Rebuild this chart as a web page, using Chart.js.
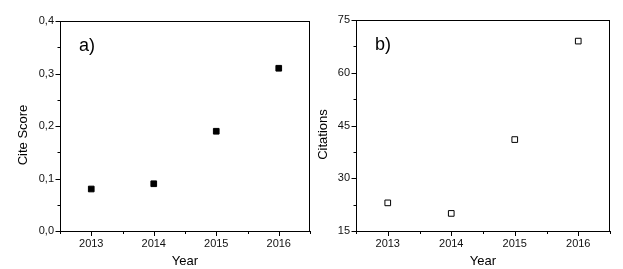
<!DOCTYPE html>
<html>
<head>
<meta charset="utf-8">
<script src="https://cdn.jsdelivr.net/npm/chart.js@4.4.1/dist/chart.umd.min.js"></script>
<style>
  html, body { margin: 0; padding: 0; background: #fff; }
  #wrap { position: relative; width: 623px; height: 269px; }
  #wrap canvas { position: absolute; left: 0; top: 0; }
</style>
</head>
<body>
<div id="wrap">
  <canvas id="chartA" width="623" height="269"></canvas>
  <canvas id="chartB" width="623" height="269"></canvas>
</div>
<script>
const years = [2013, 2014, 2015, 2016];
const citeScore = [0.08, 0.09, 0.19, 0.31];
const citations = [23, 20, 41, 69];

const citeTicks = [0, 0.1, 0.2, 0.3, 0.4];
const citeTickLabels = ['0,0', '0,1', '0,2', '0,3', '0,4'];
const citTicks = [15, 30, 45, 60, 75];
const citTickLabels = ['15', '30', '45', '60', '75'];

const FONT = "'Liberation Sans', Arial, sans-serif";
Chart.defaults.font.family = FONT;
Chart.defaults.color = '#111';

// frame, outward major/minor ticks, y title and panel letter
const framePlugin = {
    id: 'frame',
    afterDraw(chart, args, opts) {
        const ctx = chart.ctx;
        const a = chart.chartArea;
        const xs = chart.scales.x, ys = chart.scales.y;
        ctx.save();
        ctx.strokeStyle = '#000';
        ctx.lineWidth = 1;
        ctx.strokeRect(a.left + 0.5, a.top + 0.5, a.right - a.left - 1, a.bottom - a.top);

        ctx.beginPath();
        // x ticks
        for (let v = xs.min; v <= xs.max + 1e-9; v += 0.5) {
            const px = Math.round(xs.getPixelForValue(v)) + 0.5;
            const major = Math.abs(v - Math.round(v)) < 1e-9;
            ctx.moveTo(px, a.bottom);
            ctx.lineTo(px, a.bottom + (major ? 5 : 3));
        }
        // y ticks
        const step = opts.yStep / 2;
        for (let v = ys.min; v <= ys.max + 1e-9; v += step) {
            const py = Math.round(ys.getPixelForValue(v)) + 0.5;
            const k = Math.round((v - ys.min) / step);
            ctx.moveTo(a.left + 0.5, py);
            ctx.lineTo(a.left + 0.5 - (k % 2 === 0 ? 5 : 3), py);
        }
        ctx.stroke();

        ctx.fillStyle = '#000';
        ctx.font = '13px ' + FONT;
        ctx.textAlign = 'center';
        ctx.textBaseline = 'middle';
        ctx.translate(a.left - opts.titleGap, (a.top + a.bottom) / 2 + 9);
        ctx.rotate(-Math.PI / 2);
        ctx.fillText(opts.yTitle, 0, 0);
        ctx.restore();

        ctx.save();
        ctx.fillStyle = '#000';
        ctx.font = '18px ' + FONT;
        ctx.textAlign = 'left';
        ctx.textBaseline = 'middle';
        ctx.fillText(opts.label, a.left + 19, a.top + 25);
        ctx.restore();
    }
};

function makePanel(id, values, yMin, yMax, yTicks, yLabels, yStep, pad, yWidth, marker, frameOpts) {
    new Chart(document.getElementById(id), {
        type: 'scatter',
        data: {
            datasets: [{
                data: years.map((y, i) => ({ x: y, y: values[i] })),
                pointStyle: 'rect',
                pointRadius: 4,
                pointHoverRadius: 4,
                borderWidth: 1,
                borderColor: '#000',
                backgroundColor: marker
            }]
        },
        options: {
            responsive: false,
            animation: false,
            events: [],
            layout: { padding: pad },
            plugins: {
                legend: { display: false },
                tooltip: { enabled: false },
                frame: Object.assign({ yStep: yStep }, frameOpts)
            },
            scales: {
                x: {
                    type: 'linear',
                    min: 2012.5,
                    max: 2016.5,
                    afterBuildTicks: s => { s.ticks = years.map(v => ({ value: v })); },
                    afterFit: s => { s.height = 38; },
                    grid: { display: false, drawTicks: false },
                    border: { display: false },
                    ticks: { padding: 6, font: { size: 11 }, color: '#111', callback: v => String(v) },
                    title: { display: true, text: 'Year', font: { size: 13 }, color: '#000', padding: 0 }
                },
                y: {
                    min: yMin,
                    max: yMax,
                    afterBuildTicks: s => { s.ticks = yTicks.map(v => ({ value: v })); },
                    afterFit: s => { s.width = yWidth; },
                    grid: { display: false, drawTicks: false },
                    border: { display: false },
                    ticks: {
                        padding: 6,
                        font: { size: 11 },
                        color: '#111',
                        callback: (v, i) => yLabels[i]
                    }
                }
            }
        },
        plugins: [framePlugin]
    });
}

makePanel('chartA', citeScore, 0, 0.4, citeTicks, citeTickLabels, 0.1,
    { left: 0, right: 313, top: 21, bottom: 0 }, 60, '#000',
    { yTitle: 'Cite Score', titleGap: 37, label: 'a)' });

makePanel('chartB', citations, 15, 75, citTicks, citTickLabels, 15,
    { left: 311, right: 13, top: 20, bottom: 0 }, 45, '#fff',
    { yTitle: 'Citations', titleGap: 33, label: 'b)' });
</script>
</body>
</html>
